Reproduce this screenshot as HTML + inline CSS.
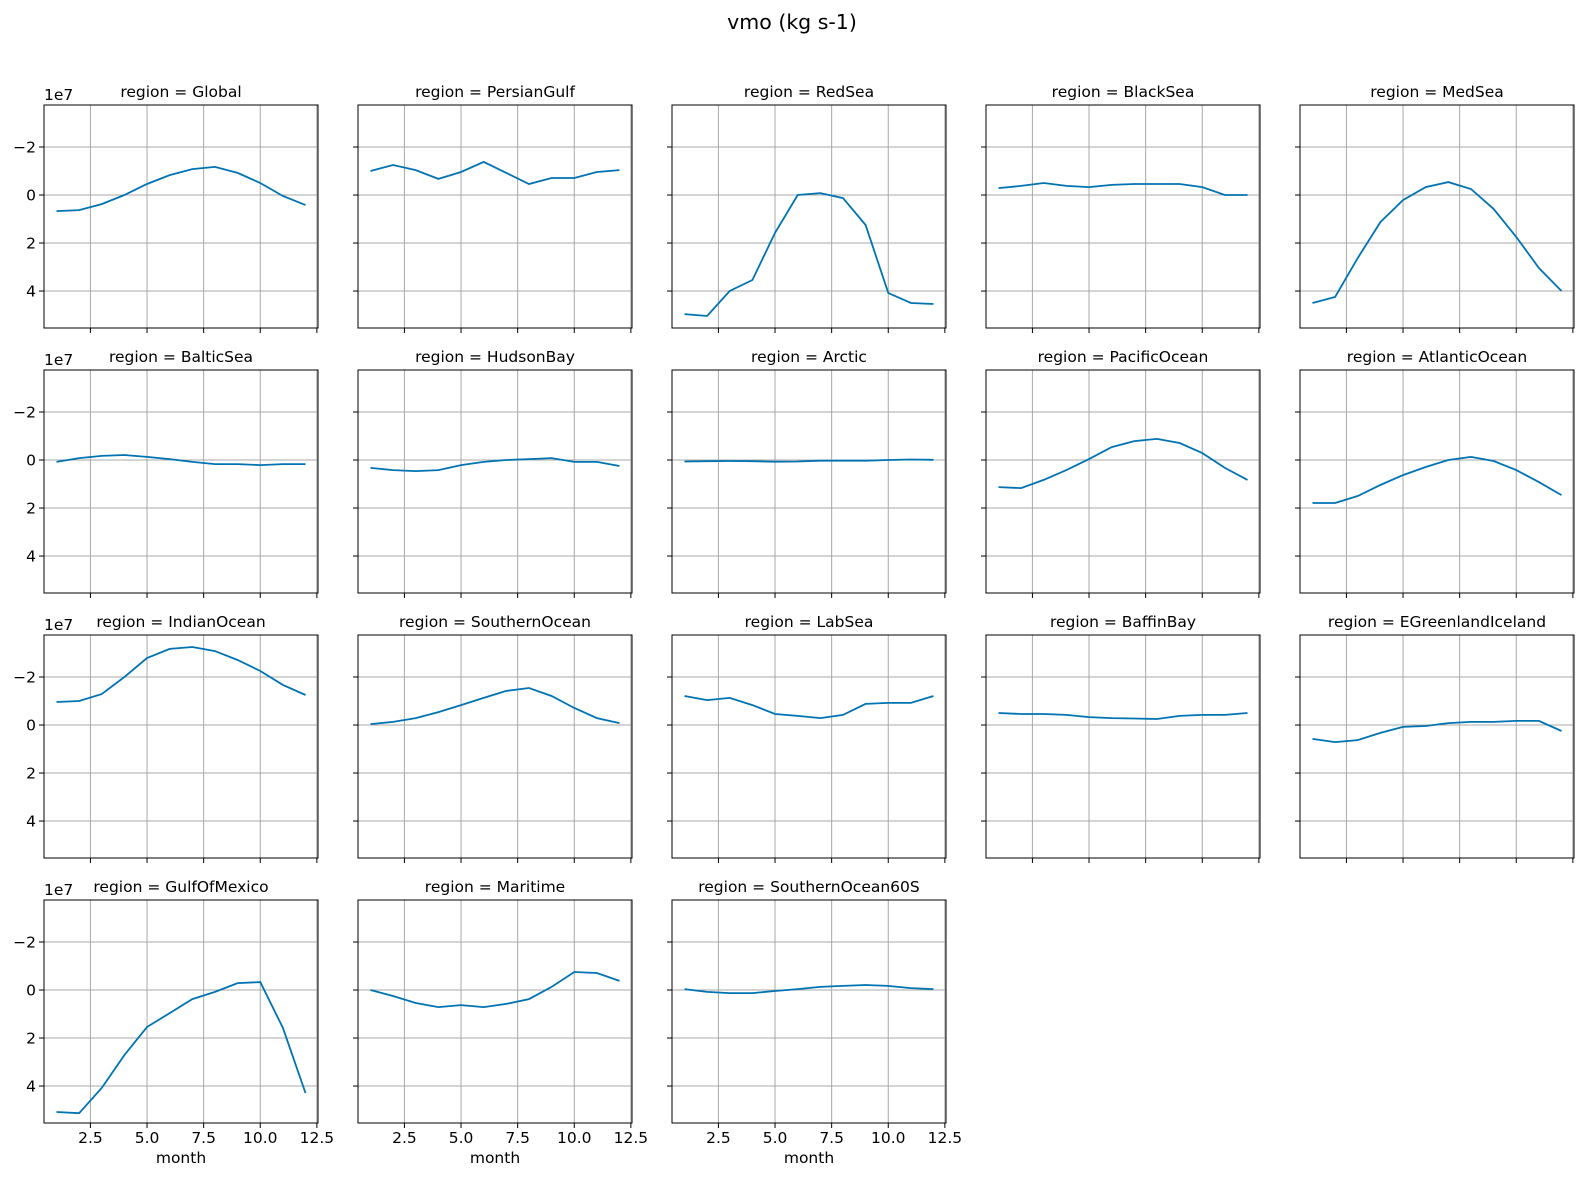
<!DOCTYPE html>
<html><head><meta charset="utf-8"><style>
body{margin:0;background:#fff;}
svg text{font-family:"DejaVu Sans","Liberation Sans",sans-serif;fill:#000;}
</style></head><body>
<svg id="fig" width="1584" height="1178" viewBox="0 0 1584 1178" xmlns="http://www.w3.org/2000/svg">
<rect width="1584" height="1178" fill="#fff"/>
<text x="792" y="29" font-size="20.5" text-anchor="middle">vmo (kg s-1)</text>
</svg>
<script>
const months=[1,2,3,4,5,6,7,8,9,10,11,12];
const regions=["Global","PersianGulf","RedSea","BlackSea","MedSea","BalticSea","HudsonBay","Arctic","PacificOcean","AtlanticOcean","IndianOcean","SouthernOcean","LabSea","BaffinBay","EGreenlandIceland","GulfOfMexico","Maritime","SouthernOcean60S"];
const sGlobal=[0.67,0.63,0.38,0,-0.46,-0.83,-1.08,-1.17,-0.92,-0.5,0.04,0.42];
const sPersianGulf=[-1.0,-1.25,-1.04,-0.67,-0.96,-1.38,-0.92,-0.46,-0.71,-0.71,-0.96,-1.04];
const sRedSea=[4.96,5.04,4.0,3.54,1.58,0,-0.08,0.13,1.25,4.08,4.5,4.54];
const sBlackSea=[-0.29,-0.38,-0.5,-0.38,-0.33,-0.42,-0.46,-0.46,-0.46,-0.33,0,0];
const sMedSea=[4.5,4.25,2.63,1.13,0.21,-0.33,-0.54,-0.25,0.58,1.75,3.04,4.0];
const sBalticSea=[0.08,-0.08,-0.17,-0.21,-0.13,-0.04,0.08,0.17,0.17,0.21,0.17,0.17];
const sHudsonBay=[0.33,0.42,0.46,0.42,0.21,0.08,0,-0.04,-0.08,0.08,0.08,0.25];
const sArctic=[0.06,0.05,0.04,0.05,0.07,0.06,0.03,0.03,0.03,0.0,-0.02,-0.01];
const sPacificOcean=[1.13,1.17,0.83,0.42,-0.04,-0.54,-0.79,-0.88,-0.71,-0.29,0.33,0.83];
const sAtlanticOcean=[1.79,1.79,1.5,1.04,0.63,0.29,0,-0.13,0.04,0.42,0.92,1.46];
const sIndianOcean=[-0.96,-1.0,-1.29,-2.0,-2.79,-3.17,-3.25,-3.08,-2.71,-2.25,-1.67,-1.25];
const sSouthernOcean=[-0.04,-0.13,-0.29,-0.54,-0.83,-1.13,-1.42,-1.54,-1.21,-0.71,-0.29,-0.08];
const sLabSea=[-1.21,-1.04,-1.13,-0.83,-0.46,-0.38,-0.29,-0.42,-0.88,-0.92,-0.92,-1.21];
const sBaffinBay=[-0.5,-0.46,-0.46,-0.42,-0.33,-0.29,-0.27,-0.25,-0.38,-0.42,-0.42,-0.5];
const sEGreenlandIceland=[0.58,0.71,0.63,0.33,0.08,0.04,-0.08,-0.13,-0.13,-0.17,-0.17,0.25];
const sGulfOfMexico=[5.08,5.13,4.08,2.71,1.54,0.96,0.38,0.08,-0.29,-0.33,1.58,4.29];
const sMaritime=[0,0.25,0.54,0.71,0.63,0.71,0.58,0.38,-0.13,-0.75,-0.71,-0.38];
const sSouthernOcean60S=[-0.04,0.08,0.13,0.13,0.04,-0.04,-0.13,-0.17,-0.21,-0.17,-0.08,-0.04];
const series=[sGlobal,sPersianGulf,sRedSea,sBlackSea,sMedSea,sBalticSea,sHudsonBay,sArctic,sPacificOcean,sAtlanticOcean,sIndianOcean,sSouthernOcean,sLabSea,sBaffinBay,sEGreenlandIceland,sGulfOfMexico,sMaritime,sSouthernOcean60S];
const xTicks=[2.5,5.0,7.5,10.0,12.5];
const xTickLabels=["2.5","5.0","7.5","10.0","12.5"];
const yTicks=[-2,0,2,4];
const yTickLabels=["\u22122","0","2","4"];
const X0=0.45,X1=12.55,Y0=-3.75,Y1=5.54;
const W=274,H=223,NS="http://www.w3.org/2000/svg";
const svg=document.getElementById('fig');
function mk(t,a,p){const e=document.createElementNS(NS,t);for(const k in a)e.setAttribute(k,a[k]);(p||svg).appendChild(e);return e;}
regions.forEach((r,i)=>{
  const col=i%5,row=Math.floor(i/5);
  const L=44+col*314,T=105+row*265;
  const sx=v=>L+(v-X0)/(X1-X0)*W;
  const sy=v=>T+(v-Y0)/(Y1-Y0)*H;
  const g=mk('g',{});
  
  
  xTicks.forEach((t,k)=>{const x=sx(t);
    const gl=mk('line',{x1:x,x2:x,y1:T,y2:T+H,stroke:'#a8a8a8','stroke-width':1},g);
    
    mk('line',{x1:x,x2:x,y1:T+H,y2:T+H+5,stroke:'#000','stroke-width':1},g);
    if(row===3){const tl=mk('text',{x:x,y:T+H+20,'font-size':15.5,'text-anchor':'middle'},g);tl.textContent=xTickLabels[k];
      }
  });
  yTicks.forEach((t,k)=>{const y=sy(t);
    const gl=mk('line',{x1:L,x2:L+W,y1:y,y2:y,stroke:'#a8a8a8','stroke-width':1},g);
    
    mk('line',{x1:L-5,x2:L,y1:y,y2:y,stroke:'#000','stroke-width':1},g);
    if(col===0){const tl=mk('text',{x:L-8,y:y+5.5,'font-size':15.5,'text-anchor':'end'},g);tl.textContent=yTickLabels[k];
      }
  });
  if(col===0){const e=mk('text',{x:L,y:T-5,'font-size':15.5},g);e.textContent='1e7';
    }
  const d=series[i].map((v,k)=>(k?'L':'M')+sx(months[k]).toFixed(1)+','+sy(v).toFixed(1)).join('');
  const p=mk('path',{d:d,fill:'none',stroke:'#0173b2','stroke-width':1.8},g);
  
  const b=mk('rect',{x:L,y:T,width:W,height:H,fill:'none',stroke:'#000','stroke-width':1},g);
  
  const tt=mk('text',{x:L+W/2,y:T-8,'font-size':15.5,'text-anchor':'middle'},g);tt.textContent='region = '+r;
  
  if(row===3){const xl=mk('text',{x:L+W/2,y:T+H+40,'font-size':15.5,'text-anchor':'middle'},g);xl.textContent='month';
    }
});
</script>
</body></html>
